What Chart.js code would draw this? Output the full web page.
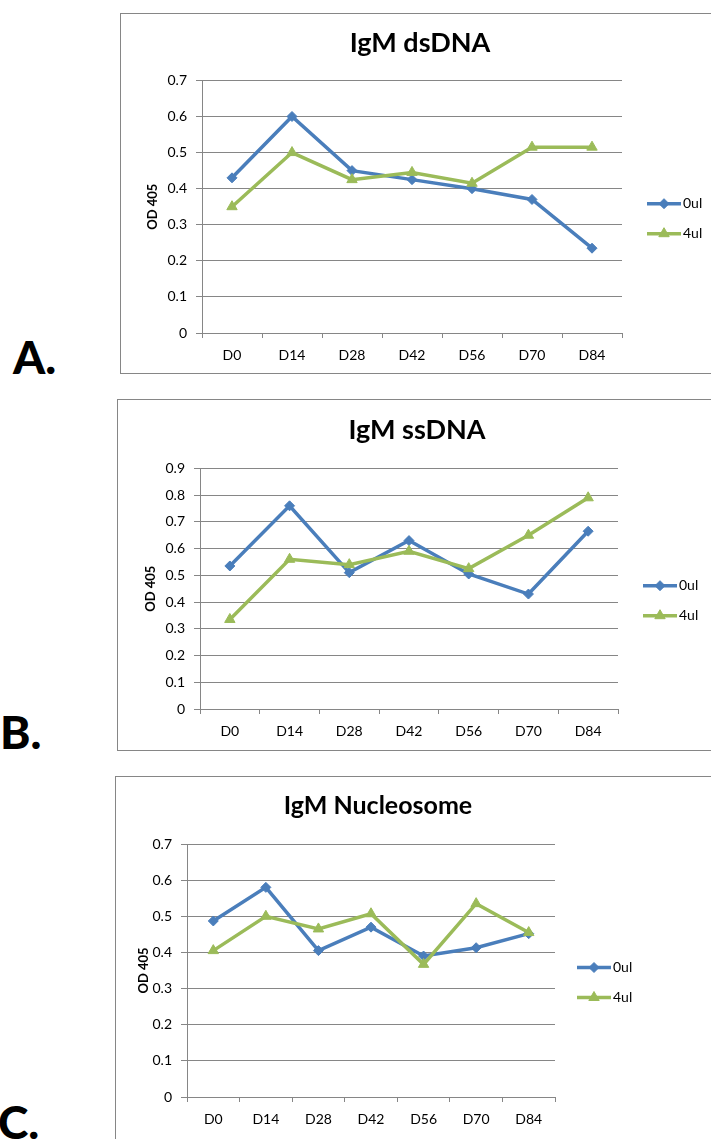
<!DOCTYPE html>
<html>
<head>
<meta charset="utf-8">
<script src="https://cdn.jsdelivr.net/npm/chart.js@4.4.1/dist/chart.umd.min.js"></script>
<style>
body { margin:0; width:711px; height:1139px; overflow:hidden; background:#fff; position:relative; font-family:Lato, sans-serif; }
.marco { position:absolute; border:1px solid #868686; box-sizing:border-box; }
.marco canvas { position:absolute; left:0; top:0; }
.letra { position:absolute; font-family:Lato, sans-serif; font-weight:900; font-size:46px; line-height:46px; color:#000; }
</style>
</head>
<body>

<div class="letra" style="left:13px; top:334px;">A.</div>
<div class="letra" style="left:0px; top:709px;">B.</div>
<div class="letra" style="left:-2px; top:1099px;">C.</div>

<div class="marco" style="left:120px; top:13px; width:610px; height:361px;">
  <canvas id="graficaA" width="590" height="359"></canvas>
</div>
<div class="marco" style="left:117px; top:399px; width:610px; height:352px;">
  <canvas id="graficaB" width="593" height="350"></canvas>
</div>
<div class="marco" style="left:115px; top:776px; width:610px; height:400px;">
  <canvas id="graficaC" width="595" height="370"></canvas>
</div>

<script>
// Datos
var categorias = ["D0", "D14", "D28", "D42", "D56", "D70", "D84"];
var series = ["0ul", "4ul"];

var dsDNA_0ul = [0.43, 0.60, 0.45, 0.425, 0.40, 0.37, 0.235];
var dsDNA_4ul = [0.35, 0.50, 0.425, 0.445, 0.415, 0.515, 0.515];

var ssDNA_0ul = [0.535, 0.76, 0.51, 0.63, 0.505, 0.43, 0.665];
var ssDNA_4ul = [0.335, 0.56, 0.54, 0.59, 0.525, 0.65, 0.79];

var nucleo_0ul = [0.487, 0.58, 0.405, 0.47, 0.39, 0.413, 0.452];
var nucleo_4ul = [0.405, 0.50, 0.465, 0.507, 0.367, 0.535, 0.455];

var azul = "#4A7EBB";
var verde = "#9BBB59";
var gris = "#868686";
var fuente = "Lato, sans-serif";

// Leyenda al estilo Excel: linea con marcador y texto
var leyendaExcel = {
    id: "leyendaExcel",
    afterDraw: function(chart, args, opts) {
        var ctx = chart.ctx;
        var area = chart.chartArea;
        var x = area.right + opts.offsetX;
        var yMedio = (area.top + area.bottom) / 2 + opts.offsetY;

        chart.data.datasets.forEach(function(ds, i) {
            var y = yMedio + (i - 0.5) * opts.espacio;
            ctx.save();
            ctx.strokeStyle = ds.borderColor;
            ctx.fillStyle = ds.borderColor;
            ctx.lineWidth = 3.5;
            ctx.beginPath();
            ctx.moveTo(x, y);
            ctx.lineTo(x + 34, y);
            ctx.stroke();
            ctx.lineWidth = 1;
            Chart.helpers.drawPoint(ctx, {
                pointStyle: ds.pointStyle,
                radius: ds.pointRadius,
                rotation: 0,
                borderWidth: 1
            }, x + 17, y);
            ctx.fillStyle = "#000";
            ctx.font = "14px " + fuente;
            ctx.textBaseline = "middle";
            ctx.textAlign = "left";
            ctx.fillText(ds.label, x + 36, y);
            ctx.restore();
        });
    }
};

function crearGrafica(id, titulo, valores0, valores4, yMax, ajuste) {
    var ctx = document.getElementById(id).getContext("2d");

    return new Chart(ctx, {
        type: "line",
        data: {
            labels: categorias,
            datasets: [{
                label: series[0],
                data: valores0,
                borderColor: azul,
                backgroundColor: azul,
                pointBackgroundColor: azul,
                pointBorderColor: azul,
                borderWidth: 3.5,
                pointStyle: "rectRot",
                pointRadius: 5,
                pointBorderWidth: 1,
                tension: 0,
                order: 1
            }, {
                label: series[1],
                data: valores4,
                borderColor: verde,
                backgroundColor: verde,
                pointBackgroundColor: verde,
                pointBorderColor: verde,
                borderWidth: 3.5,
                pointStyle: "triangle",
                pointRadius: 6,
                pointBorderWidth: 1,
                tension: 0,
                order: 0
            }]
        },
        options: {
            responsive: false,
            animation: false,
            layout: {
                padding: { left: ajuste.padIzq, right: ajuste.padDer, top: 0, bottom: 0 }
            },
            scales: {
                x: {
                    type: "category",
                    offset: true,
                    grid: {
                        offset: true,
                        drawOnChartArea: false,
                        drawTicks: true,
                        tickLength: 5,
                        color: gris
                    },
                    border: { color: gris, width: 1 },
                    ticks: {
                        padding: 9,
                        maxRotation: 0,
                        color: "#000",
                        font: { family: fuente, size: 14 }
                    },
                    afterFit: function(scale) { scale.height = ajuste.altoEjeX; }
                },
                y: {
                    min: 0,
                    max: yMax,
                    grid: {
                        color: gris,
                        tickLength: 6,
                        drawTicks: true
                    },
                    border: { color: gris, width: 1 },
                    ticks: {
                        stepSize: 0.1,
                        padding: 9,
                        color: "#000",
                        font: { family: fuente, size: 14 },
                        callback: function(v) { return v === 0 ? "0" : v.toFixed(1); }
                    },
                    title: {
                        display: true,
                        text: "OD 405",
                        color: "#000",
                        font: { family: fuente, size: 13, weight: "bold" },
                        padding: { top: ajuste.padTituloY, bottom: 0 }
                    },
                    afterFit: function(scale) { scale.width = ajuste.anchoEjeY; }
                },
                // eje vacio a la derecha, solo reserva el hueco de la leyenda
                hueco: {
                    type: "linear",
                    position: "right",
                    grid: { display: false, drawTicks: false },
                    border: { display: false },
                    ticks: { display: false },
                    afterFit: function(scale) { scale.width = ajuste.anchoLeyenda; }
                }
            },
            plugins: {
                legend: { display: false },
                tooltip: { enabled: false },
                title: {
                    display: true,
                    text: titulo,
                    color: "#000",
                    font: { family: fuente, size: ajuste.tamTitulo, weight: "bold" },
                    padding: { top: ajuste.tituloArriba, bottom: ajuste.tituloAbajo }
                },
                leyendaExcel: { offsetX: ajuste.leyendaX, offsetY: 12, espacio: 30 }
            }
        },
        plugins: [leyendaExcel]
    });
}

crearGrafica("graficaA", "IgM dsDNA", dsDNA_0ul, dsDNA_4ul, 0.7, {
    padIzq: 8, padDer: 0, anchoEjeY: 73, anchoLeyenda: 89, altoEjeX: 40,
    tamTitulo: 27, tituloArriba: 13, tituloAbajo: 21, padTituloY: 16, leyendaX: 25
});

crearGrafica("graficaB", "IgM ssDNA", ssDNA_0ul, ssDNA_4ul, 0.9, {
    padIzq: 5, padDer: 0, anchoEjeY: 77, anchoLeyenda: 93, altoEjeX: 41,
    tamTitulo: 27, tituloArriba: 14, tituloAbajo: 22, padTituloY: 20, leyendaX: 25
});

crearGrafica("graficaC", "IgM Nucleosome", nucleo_0ul, nucleo_4ul, 0.7, {
    padIzq: 0, padDer: 71, anchoEjeY: 71, anchoLeyenda: 85, altoEjeX: 50,
    tamTitulo: 25, tituloArriba: 14, tituloAbajo: 23, padTituloY: 20, leyendaX: 22
});
</script>
</body>
</html>
